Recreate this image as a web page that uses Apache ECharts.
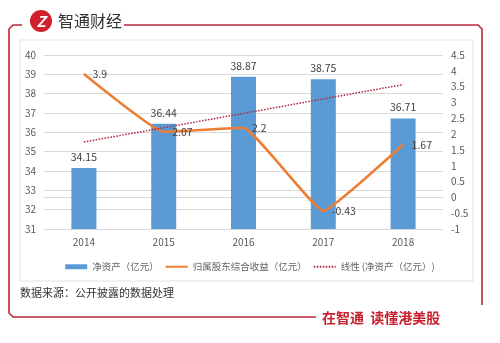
<!DOCTYPE html>
<html>
<head>
<meta charset="utf-8">
<style>
  html, body { margin: 0; padding: 0; background: #fff; }
  #chart { width: 500px; height: 343px; }
</style>
<script src="https://cdn.jsdelivr.net/npm/echarts@6/dist/echarts.min.js"></script>
</head>
<body>
<div id="chart"></div>
<script>
// 年份
const years = ['2014', '2015', '2016', '2017', '2018'];
// 净资产（亿元）
const netAssets = [34.15, 36.44, 38.87, 38.75, 36.71];
// 归属股东综合收益（亿元）
const income = [3.9, 2.07, 2.2, -0.43, 1.67];
// 净资产线性趋势
const netAssetsTrend = [35.50, 36.24, 36.98, 37.73, 38.47];

const FONT = '"Noto Sans CJK SC", "Noto Sans", sans-serif';
const RED = '#b8283a';

const chart = echarts.init(document.getElementById('chart'));

// 图例里的线条只画线，不画圆点
const noDot = { color: 'rgba(0,0,0,0)', borderWidth: 0 };

const option = {
  backgroundColor: '#fff',
  animation: false,
  textStyle: { fontFamily: FONT },
  grid: { left: 44, right: 57, top: 55, bottom: 114 },
  legend: {
    top: 257,
    left: 'center',
    itemWidth: 22,
    itemHeight: 5,
    itemGap: 6,
    textStyle: { fontSize: 9.5, color: '#666', fontFamily: FONT },
    data: [
      { name: '净资产（亿元）', icon: 'rect' },
      { name: '归属股东综合收益（亿元）', itemStyle: noDot },
      { name: '线性 (净资产（亿元）)', itemStyle: noDot },
    ],
  },
  xAxis: {
    type: 'category',
    data: years,
    axisLine: { lineStyle: { color: '#d9d9d9' } },
    axisTick: { show: false },
    axisLabel: { color: '#595959', fontSize: 10, margin: 8 },
  },
  yAxis: [
    {
      type: 'value',
      min: 31,
      max: 40,
      interval: 1,
      axisLine: { show: false },
      axisTick: { show: false },
      axisLabel: { color: '#595959', fontSize: 10, margin: 8 },
      splitLine: { lineStyle: { color: '#d9d9d9' } },
    },
    {
      type: 'value',
      min: -1,
      max: 4.5,
      interval: 0.5,
      axisLine: { show: false },
      axisTick: { show: false },
      axisLabel: { color: '#595959', fontSize: 10, margin: 8 },
      splitLine: { show: false },
    },
  ],
  series: [
    {
      name: '净资产（亿元）',
      type: 'bar',
      data: netAssets,
      barWidth: 25,
      itemStyle: { color: '#5b9bd5' },
      label: {
        show: true,
        position: 'top',
        distance: 6,
        color: '#404040',
        fontSize: 10.5,
      },
    },
    {
      name: '归属股东综合收益（亿元）',
      type: 'line',
      yAxisIndex: 1,
      data: income,
      smooth: 0.1,
      symbol: 'circle',
      symbolSize: 1,
      showSymbol: true,
      lineStyle: { color: '#ed7d31', width: 2.5 },
      itemStyle: { color: '#ed7d31' },
      label: {
        show: true,
        position: 'right',
        distance: 8,
        color: '#404040',
        fontSize: 10.5,
      },
      z: 3,
    },
    {
      name: '线性 (净资产（亿元）)',
      type: 'line',
      data: netAssetsTrend,
      symbol: 'none',
      lineStyle: { color: '#b0233a', width: 1.5, type: [1.5, 1.5] },
      itemStyle: { color: '#b0233a' },
      z: 4,
    },
  ],
  graphic: [
    // 图表外框（浅灰）
    {
      type: 'rect',
      shape: { x: 20, y: 40, width: 453, height: 241 },
      style: { fill: 'none', stroke: '#e3e3e3', lineWidth: 1 },
      silent: true,
    },
    // 红色边框
    {
      type: 'polyline',
      shape: { points: [[22, 25], [13, 25], [9, 29], [9, 313], [13, 317], [316, 317]] },
      style: { fill: 'none', stroke: RED, lineWidth: 1.6 },
      silent: true,
    },
    {
      type: 'polyline',
      shape: { points: [[124, 25], [478, 25], [482, 29], [482, 305]] },
      style: { fill: 'none', stroke: RED, lineWidth: 1.6 },
      silent: true,
    },
    // 标志
    {
      type: 'circle',
      shape: { cx: 41, cy: 21, r: 11 },
      style: { fill: '#d0202e' },
      silent: true,
    },
    {
      type: 'text',
      x: 41,
      y: 21,
      style: {
        text: 'Z',
        fill: '#fff',
        font: 'italic bold 15px ' + FONT,
        align: 'center',
        verticalAlign: 'middle',
      },
      silent: true,
    },
    {
      type: 'text',
      x: 58,
      y: 21,
      style: {
        text: '智通财经',
        fill: '#333',
        font: '16px ' + FONT,
        verticalAlign: 'middle',
      },
      silent: true,
    },
    // 数据来源
    {
      type: 'text',
      x: 20,
      y: 293,
      style: {
        text: '数据来源：公开披露的数据处理',
        fill: '#333',
        font: '11px ' + FONT,
        verticalAlign: 'middle',
      },
      silent: true,
    },
    {
      type: 'text',
      x: 322,
      y: 318,
      style: {
        text: '在智通  读懂港美股',
        fill: '#c8202e',
        font: 'bold 14px ' + FONT,
        verticalAlign: 'middle',
      },
      silent: true,
    },
  ],
};

chart.setOption(option);
</script>
</body>
</html>
